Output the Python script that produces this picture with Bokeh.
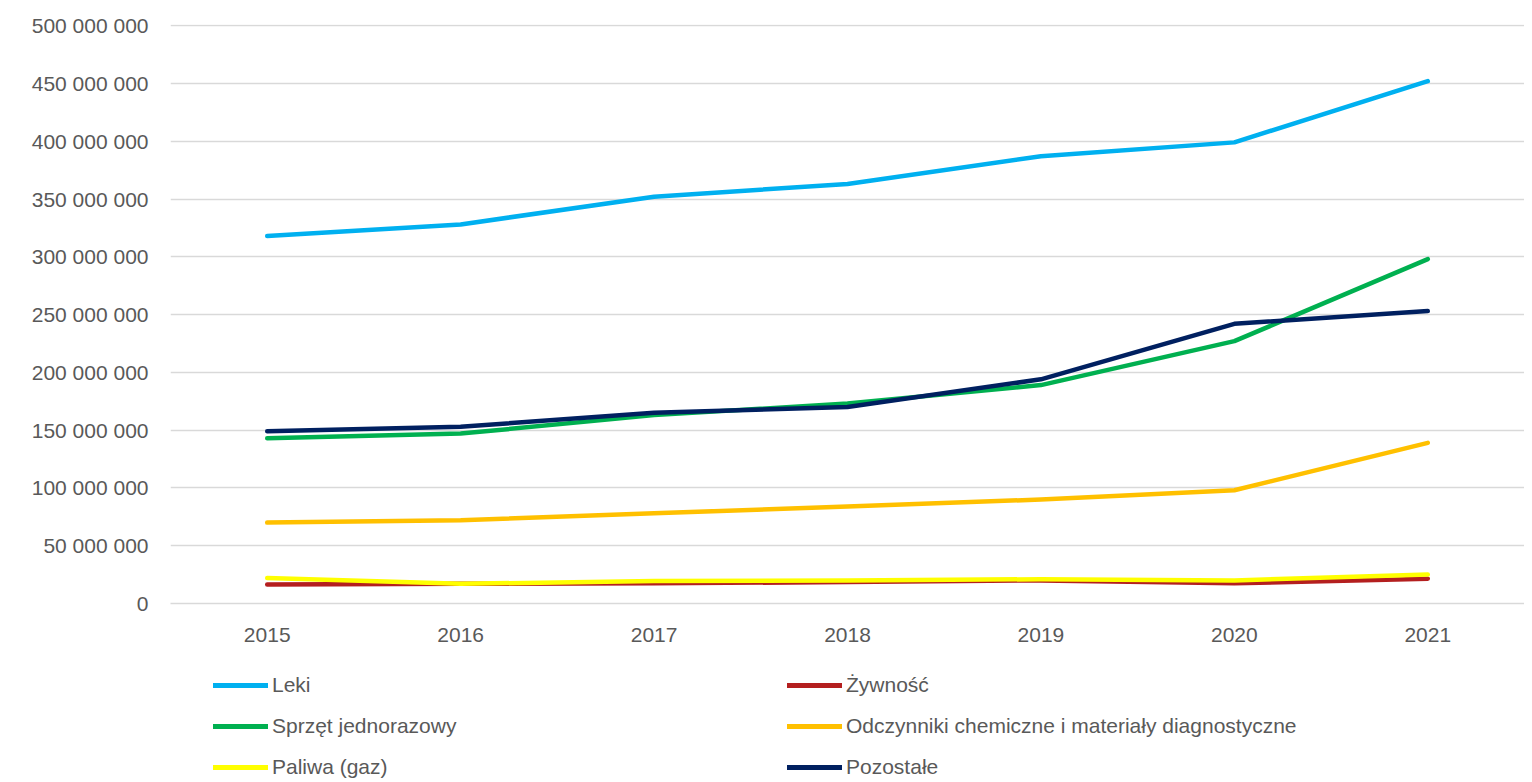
from bokeh.plotting import figure
from bokeh.layouts import column
from bokeh.models import FactorRange, Range1d, FixedTicker, CustomJSTickFormatter, Legend, LegendItem
from bokeh.embed import file_html
from bokeh.resources import INLINE

years = ["2015", "2016", "2017", "2018", "2019", "2020", "2021"]
leki = [318e6, 328e6, 352e6, 363e6, 387e6, 399e6, 452e6]
zywnosc = [16.5e6, 17e6, 17.5e6, 18.5e6, 20e6, 17.5e6, 21.5e6]
sprzet = [143e6, 147e6, 163e6, 173e6, 189e6, 227e6, 298e6]
odczynniki = [70e6, 72e6, 78e6, 84e6, 90e6, 98e6, 139e6]
paliwa = [22e6, 17e6, 19.5e6, 20e6, 21e6, 20e6, 25e6]
pozostale = [149e6, 153e6, 165e6, 170e6, 194e6, 242e6, 253e6]

series = [
    ("Leki", leki, "#00B0F0"),
    ("Żywność", zywnosc, "#B41F1F"),
    ("Sprzęt jednorazowy", sprzet, "#00B050"),
    ("Odczynniki chemiczne i materiały diagnostyczne", odczynniki, "#FFC000"),
    ("Paliwa (gaz)", paliwa, "#FFFF00"),
    ("Pozostałe", pozostale, "#002060"),
]
y_ticks = [0, 50e6, 100e6, 150e6, 200e6, 250e6, 300e6, 350e6, 400e6, 450e6, 500e6]

FONT = "Liberation Sans"
TXT = "#595959"
GRID = "#D9D9D9"

p = figure(x_range=FactorRange(*years, range_padding=0), y_range=Range1d(0, 501e6),
           width=1524, height=655, output_backend="svg", toolbar_location=None,
           min_border_left=170, min_border_right=0, min_border_top=24, min_border_bottom=52)
p.outline_line_color = None

for name, vals, col in series:
    p.line(years, vals, line_color=col, line_width=4.5, line_cap="round", line_join="round")

p.xgrid.grid_line_color = None
p.ygrid.grid_line_color = GRID
p.ygrid.grid_line_width = 1.5
p.yaxis.ticker = FixedTicker(ticks=y_ticks)
p.yaxis.formatter = CustomJSTickFormatter(code="return String(Math.round(tick)).replace(/\\B(?=(\\d{3})+(?!\\d))/g, ' ');")
for ax in (p.xaxis, p.yaxis):
    ax.major_tick_line_color = None
    ax.minor_tick_line_color = None
    ax.major_label_text_font = FONT
    ax.major_label_text_font_size = "21px"
    ax.major_label_text_color = TXT
p.yaxis.axis_line_color = None
p.xaxis.axis_line_color = GRID
p.xaxis.axis_line_width = 1.5
p.yaxis.major_label_standoff = 16
p.xaxis.major_label_standoff = 18

# legend figure below the chart (frames are aligned by the column layout)
q = figure(width=1524, height=125, output_backend="svg", toolbar_location=None,
           x_range=Range1d(0, 1), y_range=Range1d(0, 1),
           min_border_left=170, min_border_right=0, min_border_top=0, min_border_bottom=0)
q.axis.visible = False
q.grid.visible = False
q.outline_line_color = None
renderers = {}
for name, vals, col in series:
    renderers[name] = q.line([5, 6], [5, 6], line_color=col, line_width=5, line_cap="round")

# column-major fill of a 2-column legend -> reorder so rows read left to right
order = [0, 2, 4, 1, 3, 5]
items = [LegendItem(label=series[i][0], renderers=[renderers[series[i][0]]]) for i in order]

legend = Legend(items=items, ncols=2, location=(43, 1))
legend.label_text_font = FONT
legend.label_text_font_size = "21px"
legend.label_text_color = TXT
legend.glyph_width = 55
legend.glyph_height = 20
legend.label_height = 20
legend.label_width = 498
legend.label_standoff = 4
legend.spacing = 17
legend.padding = 0
legend.margin = 0
legend.border_line_color = None
legend.background_fill_alpha = 0
q.add_layout(legend, "center")

layout = column(p, q, spacing=0)
open("out.html", "w").write(file_html(layout, INLINE))
